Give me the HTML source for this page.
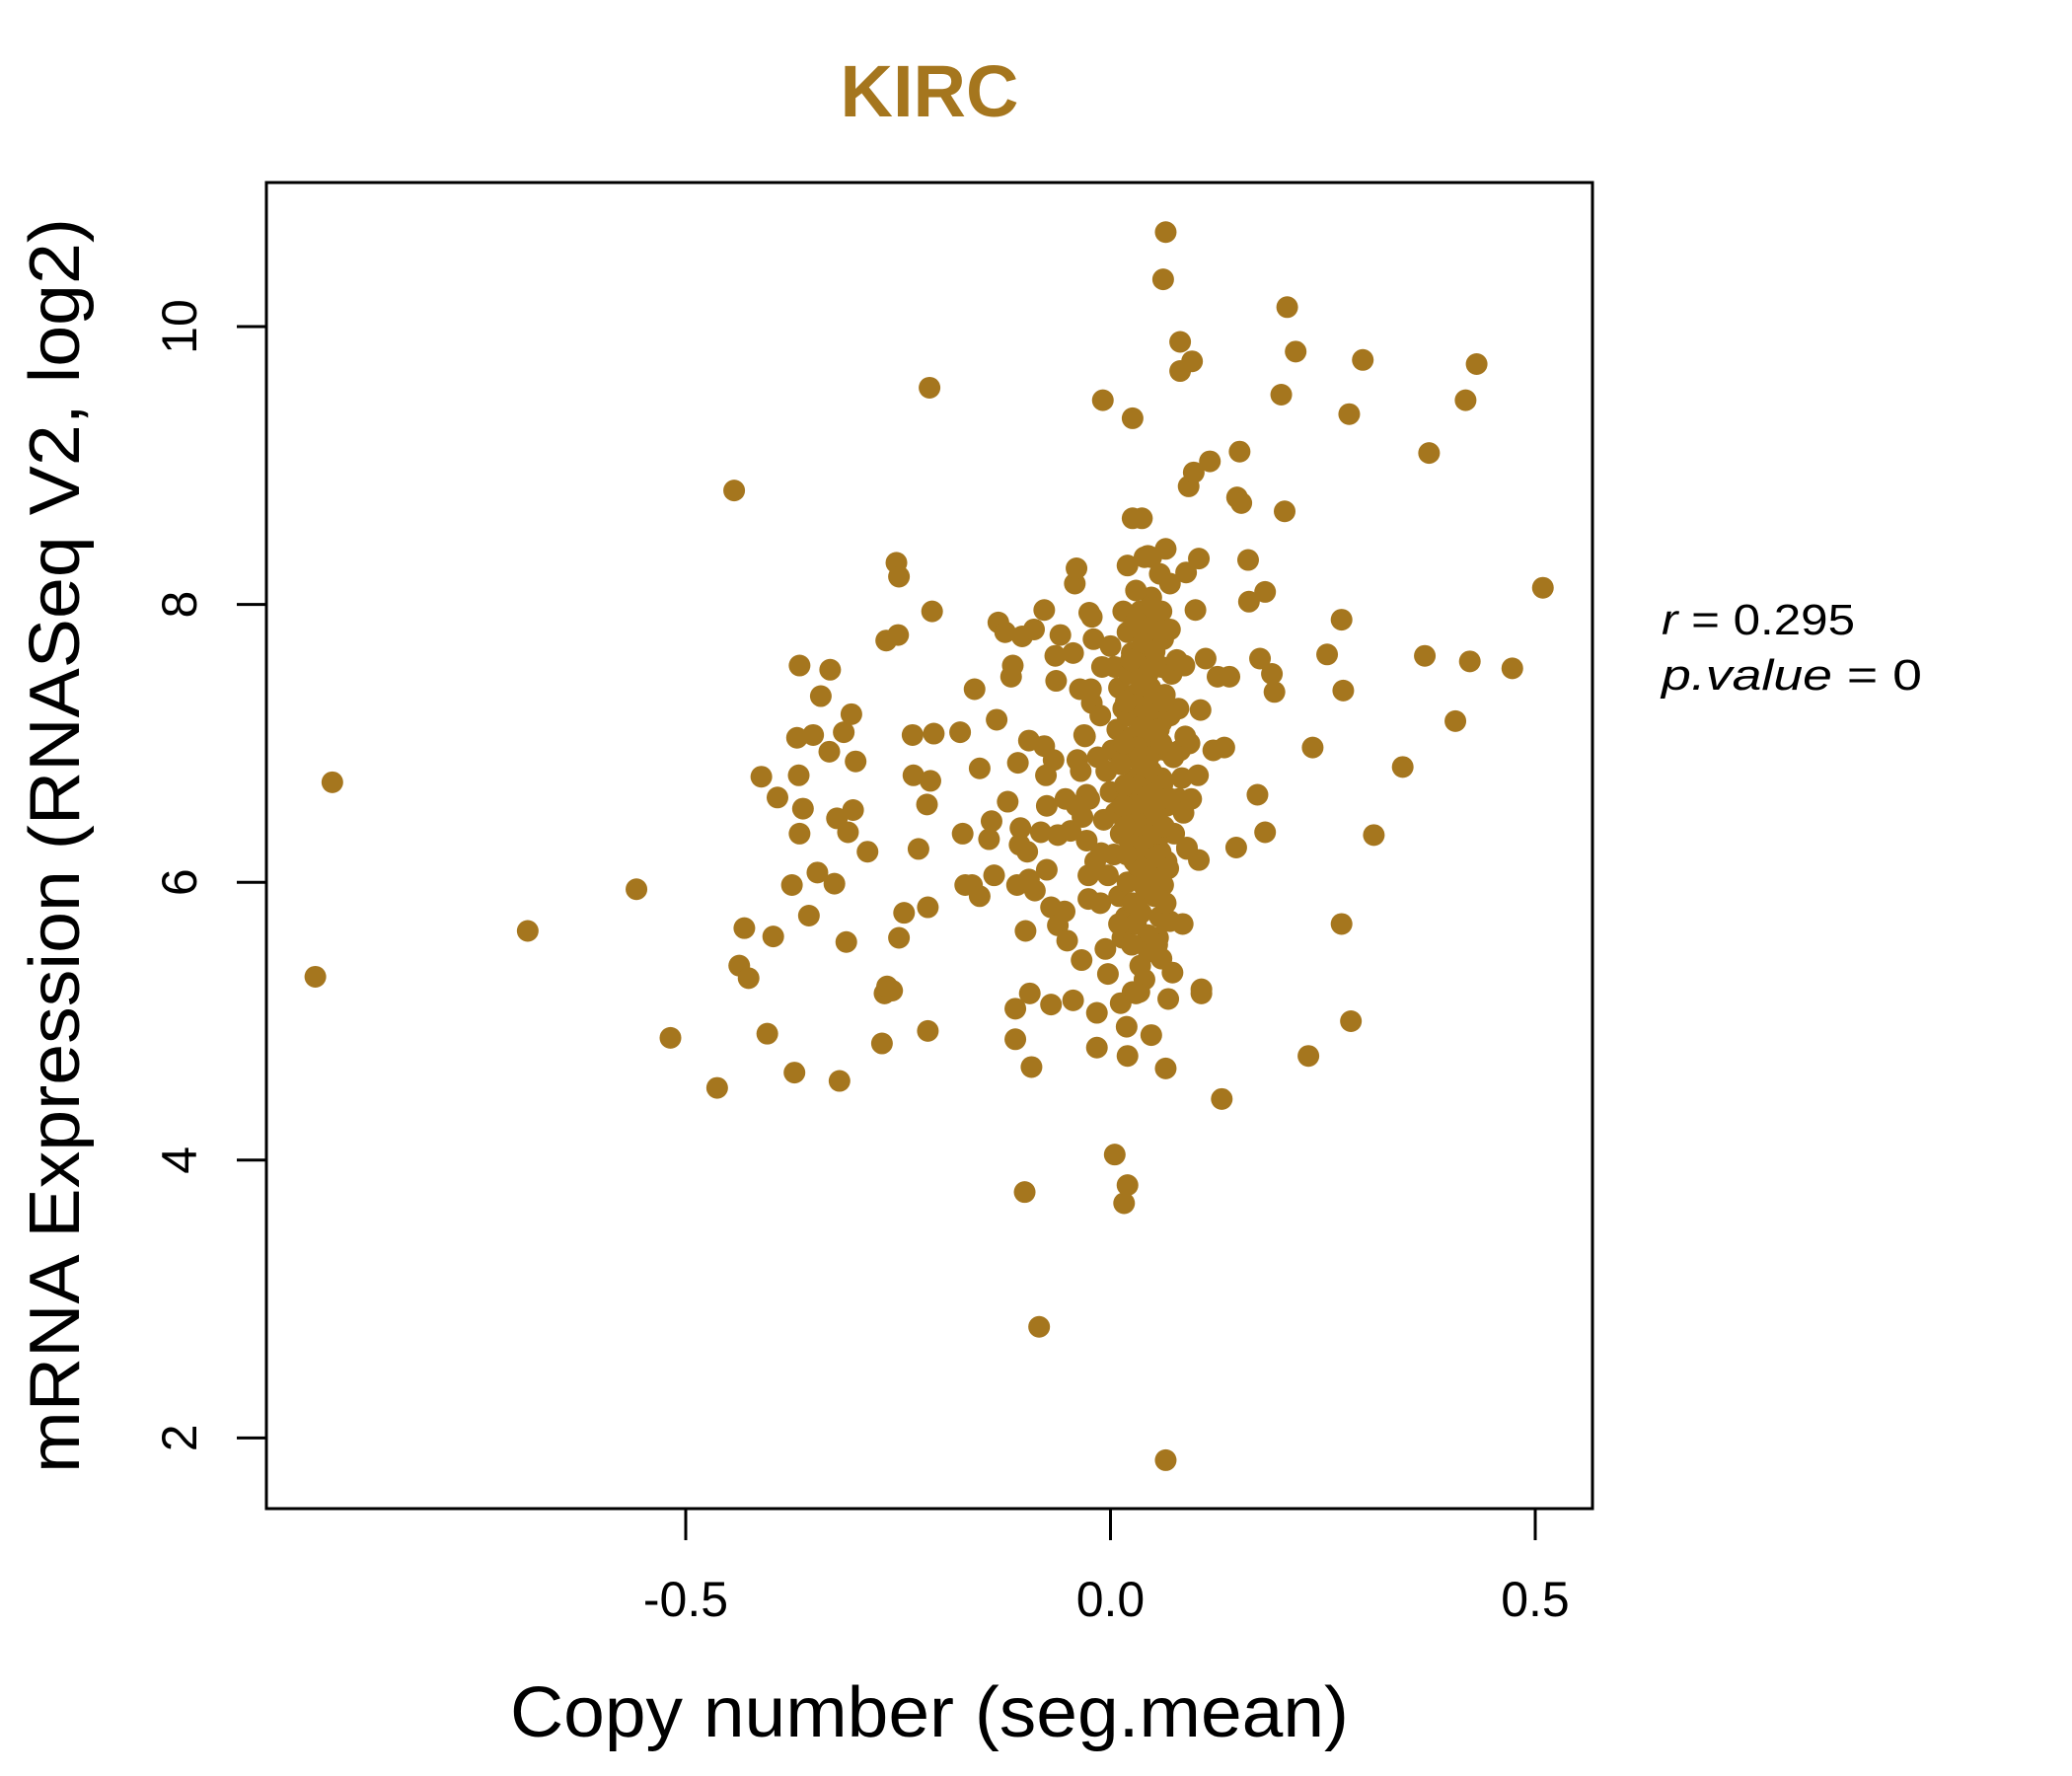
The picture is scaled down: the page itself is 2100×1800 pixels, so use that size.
<!DOCTYPE html>
<html><head><meta charset="utf-8"><style>html,body{margin:0;padding:0;background:#fff}svg{display:block}</style></head>
<body>
<svg id="chart" width="2100" height="1800" viewBox="0 0 2100 1800" xmlns="http://www.w3.org/2000/svg" font-family="'Liberation Sans', sans-serif">
<rect width="2100" height="1800" fill="#fff"/>
<text x="942" y="118" text-anchor="middle" font-size="74" font-weight="bold" fill="#A5761E">KIRC</text>
<rect x="270" y="185" width="1344" height="1344" fill="none" stroke="#000" stroke-width="3"/>
<g id="xaxis"></g>
<g id="yaxis"></g>
<g id="points"></g>
<text x="942" y="1760" text-anchor="middle" font-size="72" textLength="850" lengthAdjust="spacingAndGlyphs">Copy number (seg.mean)</text>
<text transform="translate(80,857) rotate(-90)" text-anchor="middle" font-size="72" textLength="1272" lengthAdjust="spacingAndGlyphs">mRNA Expression (RNASeq V2, log2)</text>
<text x="1684" y="643" font-size="44" textLength="196" lengthAdjust="spacingAndGlyphs"><tspan font-style="italic">r</tspan> = 0.295</text>
<text x="1684" y="699" font-size="44" textLength="264" lengthAdjust="spacingAndGlyphs"><tspan font-style="italic">p.value</tspan> = 0</text>
</svg>
<script>
const xTicks = [-0.5, 0.0, 0.5];
const xTickLabels = ["-0.5", "0.0", "0.5"];
const yTicks = [2, 4, 6, 8, 10];
const yTickLabels = ["2", "4", "6", "8", "10"];
const copyNumber = [-0.936,-0.916,-0.686,-0.558,-0.518,-0.463,-0.443,-0.431,-0.437,-0.426,-0.404,-0.411,-0.397,-0.392,-0.372,-0.375,-0.366,-0.369,-0.367,-0.362,-0.366,-0.355,-0.350,-0.345,-0.341,-0.331,-0.330,-0.325,-0.322,-0.319,-0.314,-0.311,-0.309,-0.305,-0.303,-0.300,-0.286,-0.269,-0.266,-0.264,-0.263,-0.257,-0.252,-0.249,-0.250,-0.249,-0.243,-0.233,-0.232,-0.226,-0.215,-0.215,-0.216,-0.213,-0.212,-0.210,-0.208,-0.177,-0.174,-0.171,-0.163,-0.160,-0.154,-0.154,-0.143,-0.140,-0.137,-0.134,-0.132,-0.124,-0.121,-0.117,-0.115,-0.112,-0.112,-0.110,-0.109,-0.107,-0.106,-0.104,-0.101,-0.100,-0.098,-0.096,-0.096,-0.095,-0.093,-0.090,-0.089,-0.084,-0.082,-0.078,-0.078,-0.076,-0.075,-0.075,-0.070,-0.070,-0.067,-0.065,-0.064,-0.062,-0.062,-0.059,-0.054,-0.053,-0.051,-0.047,-0.044,-0.044,-0.042,-0.040,-0.039,-0.036,-0.034,-0.033,-0.031,-0.028,-0.026,-0.026,-0.025,-0.022,-0.023,-0.022,-0.016,-0.016,-0.011,-0.009,-0.006,-0.003,0.005,0.012,0.016,0.019,0.020,0.020,0.020,0.026,0.026,0.026,0.034,0.037,0.040,0.048,0.048,0.056,0.059,0.062,0.065,0.065,0.065,0.065,0.068,0.070,0.073,0.082,0.082,0.085,0.087,0.089,0.090,0.092,0.093,0.096,0.098,0.100,0.103,0.104,0.104,0.106,0.107,0.107,0.112,0.117,0.121,0.126,0.131,0.134,0.140,0.148,0.149,0.152,0.154,0.162,0.163,0.173,0.176,0.182,0.182,0.190,0.193,0.201,0.205,0.208,0.218,0.233,0.238,0.255,0.272,0.272,0.274,0.281,0.283,0.297,0.310,0.344,0.370,0.375,0.406,0.418,0.423,0.431,0.473,0.509,
0.000,0.005,0.010,0.015,0.008,0.002,-0.005,0.000,0.006,0.012,0.004,-0.003,0.010,0.018,0.014,0.020,0.025,0.022,0.028,0.020,0.026,0.022,0.028,0.020,0.026,0.022,0.028,0.020,0.026,0.030,0.035,0.038,0.033,0.040,0.034,0.040,0.035,0.041,0.034,0.040,0.035,0.041,0.036,0.042,0.036,0.044,0.048,0.050,0.046,0.052,0.047,0.053,0.048,0.054,0.048,0.054,0.049,0.055,0.050,0.056,0.052,0.058,0.060,0.062,0.060,0.064,0.060,0.065,0.060,0.066,0.061,0.066,0.062,0.070,0.072,0.070,0.074,0.071,0.075,0.080,0.082,0.080,0.084,0.078,0.088,0.086,-0.010,-0.012,-0.015,-0.008,-0.018,-0.012,-0.020,-0.025,0.030,0.044,0.015,0.012,0.045,0.035,0.055,0.025,0.010,0.060,0.040,0.030,0.015,0.065,0.068,0.050,0.058,0.070,-0.030,-0.035,-0.028,-0.040,0.090,0.095,
0.030,0.045,0.038,0.052,0.030,0.044,0.037,0.051,0.029,0.043,0.036,0.050,0.031,0.045,0.038,0.052,0.030,0.044,0.037,0.051,0.031,0.045,0.038,0.052,0.032,0.046,0.039,0.053,0.016,0.060,0.017,0.061,0.018,0.062,0.017,0.063,0.019,0.058,0.024,0.057];
const expression = [5.32,6.72,5.65,5.95,4.88,4.52,8.82,5.67,5.40,5.31,4.91,6.76,5.61,6.61,4.63,5.98,7.56,7.04,6.77,6.53,6.35,5.76,7.06,6.07,7.34,6.94,7.53,5.99,6.46,4.57,7.08,5.57,6.36,7.21,6.52,6.87,6.22,4.84,5.20,7.74,5.25,5.22,8.30,8.20,7.78,5.60,5.78,7.06,6.77,6.24,4.93,5.82,6.56,9.56,6.73,7.95,7.07,7.08,6.35,5.98,5.98,7.39,6.82,5.90,6.31,6.44,6.05,7.17,7.87,7.80,6.58,7.48,7.56,4.87,5.09,5.98,6.86,6.27,6.39,7.77,3.77,5.65,6.22,6.02,7.02,5.20,4.67,7.82,5.94,2.80,6.36,7.96,6.98,6.77,6.55,6.09,5.12,5.82,6.88,7.63,7.45,6.34,5.69,7.78,5.79,6.60,5.58,6.37,5.15,7.65,8.15,8.26,6.88,7.39,5.44,6.47,7.06,6.63,5.88,6.05,7.94,7.91,7.39,7.29,5.06,4.81,6.21,9.47,5.52,5.34,4.04,5.13,3.69,4.96,3.82,4.75,8.28,8.62,9.34,5.21,5.21,8.62,8.34,4.90,8.34,5.60,6.22,10.34,10.68,1.84,8.40,4.66,5.16,5.72,5.35,9.89,9.68,5.70,7.56,8.23,6.24,8.85,7.00,9.75,8.95,7.96,6.77,8.33,6.16,7.24,5.23,5.20,7.61,9.03,6.95,7.48,4.44,6.97,7.48,6.25,8.77,9.10,8.73,8.32,8.02,6.63,7.61,8.09,6.36,7.50,7.37,9.51,8.67,10.14,9.82,4.75,6.97,7.64,5.70,7.89,7.38,9.37,5.00,9.76,6.34,6.83,7.63,9.09,7.16,9.47,7.59,9.73,7.54,8.12,
7.70,7.55,7.40,7.25,7.10,6.95,6.80,6.65,6.50,6.35,6.20,6.05,5.90,5.75,5.60,7.80,7.65,7.50,7.35,7.20,7.05,6.90,6.75,6.60,6.45,6.30,6.15,6.00,5.85,5.70,7.95,7.80,7.62,7.45,7.30,7.12,6.98,6.82,6.68,6.52,6.38,6.22,6.08,5.92,5.78,5.62,8.05,7.88,7.70,7.55,7.40,7.25,7.10,6.95,6.80,6.65,6.50,6.35,6.20,6.05,5.90,5.75,7.95,7.75,7.55,7.35,7.15,6.95,6.75,6.55,6.35,6.15,5.98,7.82,7.50,7.20,6.90,6.60,6.35,7.25,6.95,6.60,6.75,7.60,7.05,6.50,7.55,7.20,6.90,6.45,6.15,5.85,7.75,6.60,8.10,8.35,6.55,6.85,5.50,5.40,5.55,5.55,5.70,5.45,5.30,5.20,7.95,5.85,6.10,7.98,8.22,8.15,7.05,6.80,6.30,6.55,6.25,6.60,
7.88,7.82,7.72,7.66,7.58,7.50,7.42,7.36,7.28,7.20,7.12,7.04,6.97,6.90,6.84,6.76,6.70,6.62,6.56,6.48,6.42,6.34,6.26,6.18,6.12,6.04,5.98,5.90,7.00,7.00,6.70,6.70,7.30,7.30,6.40,6.40,6.20,6.60,7.60,7.10];
function xScale(v){ return 1125.5 + v * 861; }
function yScale(v){ return 331 + (10 - v) * 140.8; }
const NS = "http://www.w3.org/2000/svg";
const xg = document.getElementById('xaxis');
xTicks.forEach((t,i)=>{
  const l = document.createElementNS(NS,'line');
  
  
  l.setAttribute('x1',xScale(t)); l.setAttribute('x2',xScale(t));
  l.setAttribute('y1',1529); l.setAttribute('y2',1561);
  l.setAttribute('stroke','#000'); l.setAttribute('stroke-width','3');
  xg.appendChild(l);
  const tx = document.createElementNS(NS,'text');
  
  
  tx.setAttribute('x',xScale(t)); tx.setAttribute('y',1638);
  tx.setAttribute('text-anchor','middle'); tx.setAttribute('font-size','50');
  tx.textContent = xTickLabels[i];
  xg.appendChild(tx);
});
const yg = document.getElementById('yaxis');
yTicks.forEach((t,i)=>{
  const l = document.createElementNS(NS,'line');
  
  
  l.setAttribute('x1',240); l.setAttribute('x2',270);
  l.setAttribute('y1',yScale(t)); l.setAttribute('y2',yScale(t));
  l.setAttribute('stroke','#000'); l.setAttribute('stroke-width','3');
  yg.appendChild(l);
  const tx = document.createElementNS(NS,'text');
  
  
  tx.setAttribute('transform','translate(199,'+yScale(t)+') rotate(-90)');
  tx.setAttribute('text-anchor','middle'); tx.setAttribute('font-size','50');
  tx.textContent = yTickLabels[i];
  yg.appendChild(tx);
});
const pg = document.getElementById('points');
copyNumber.forEach((x,i)=>{
  const c = document.createElementNS(NS,'circle');
  
  
  c.setAttribute('cx',xScale(x)); c.setAttribute('cy',yScale(expression[i]));
  c.setAttribute('r','11'); c.setAttribute('fill','#A5761E');
  pg.appendChild(c);
});
</script>
</body></html>
